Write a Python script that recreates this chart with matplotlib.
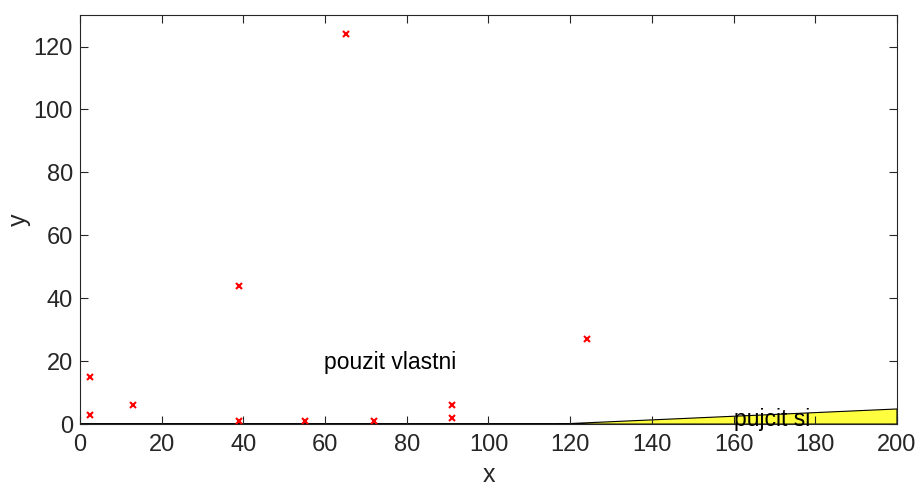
import matplotlib
matplotlib.use('Agg')
import matplotlib.pyplot as plt
from matplotlib.ticker import MultipleLocator

plt.rcParams['font.family'] = ['Liberation Sans', 'DejaVu Sans']

# scatter points
px = [2.5, 2.5, 13, 39, 39, 55, 65, 72, 91, 91, 124]
py = [15, 3, 6, 44, 1, 1, 124, 1, 6, 2, 27]

# yellow region (boundary line)
region_x = [0, 117, 200, 200]
region_y = [0, 0, 4.8, 0]

fig = plt.figure(figsize=(9.17, 4.88), dpi=100)
ax = fig.add_axes([0.0872, 0.131, 0.8910, 0.838])

ax.fill(region_x, region_y, facecolor=(1, 1, 0.25), edgecolor='black', linewidth=0.8, zorder=1)
ax.plot(px, py, 'x', color='red', markersize=5, markeredgewidth=1.5, zorder=3)

ax.text(59.7, 19.7, 'pouzit vlastni', fontsize=16.5, va='center', ha='left')
ax.text(160, 1.3, 'pujcit si', fontsize=16.5, va='center', ha='left')

ax.set_xlim(0, 200)
ax.set_ylim(0, 130)
ax.xaxis.set_major_locator(MultipleLocator(20))
ax.yaxis.set_major_locator(MultipleLocator(20))

edge = (0.15, 0.15, 0.15)
for s in ax.spines.values():
    s.set_color(edge)
    s.set_linewidth(0.8)
ax.tick_params(direction='in', top=True, right=True, colors=edge, labelcolor=edge, labelsize=17, length=6)
ax.tick_params(axis='x', pad=7)
ax.tick_params(axis='y', pad=5)

ax.set_xlabel('x', fontsize=18, color=edge, labelpad=5)
ax.set_ylabel('y', fontsize=18, color=edge, labelpad=2)

fig.savefig('out.png', dpi=100)
